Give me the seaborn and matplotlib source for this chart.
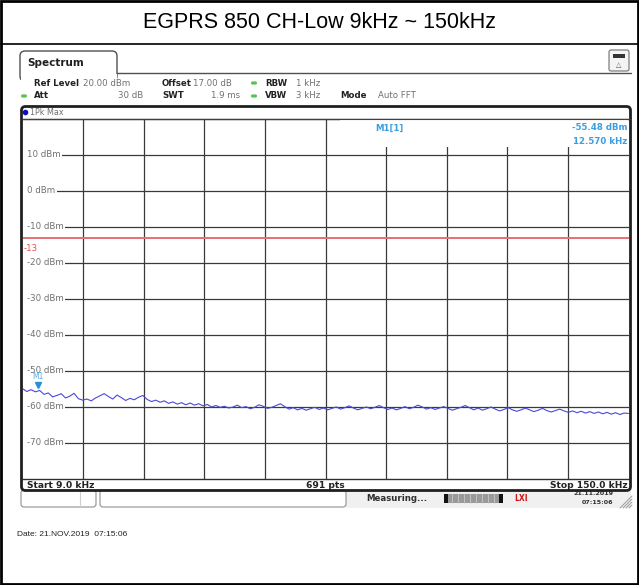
import numpy as np
import pandas as pd
import matplotlib
matplotlib.use("Agg")
import matplotlib.pyplot as plt
import seaborn as sns
from matplotlib.patches import Rectangle, FancyBboxPatch, Circle

# ---------------- data ----------------
title = "EGPRS 850 CH-Low 9kHz ~ 150kHz"
freq_khz = list(range(9, 151))
level_dbm = [
    -55.0, -55.8, -55.3, -55.9, -55.5, -56.6, -56.2, -57.3, -56.9, -56.4, -57.6, -57.1,
    -56.3, -57.8, -58.2, -57.9, -58.4, -57.6, -57.0, -56.4, -57.2, -57.9, -56.8, -57.5, -58.3, -57.7, -58.1,
    -57.4, -56.9, -58.0, -58.6, -58.2, -58.8, -58.4, -59.1, -58.7, -59.3, -58.9, -59.5, -59.0, -59.6, -59.2,
    -59.8, -59.4, -60.1, -59.7, -60.2, -59.9, -60.4, -60.1, -59.6, -60.3, -60.0, -60.6, -60.2, -59.5, -59.9,
    -60.5, -60.2, -59.7, -59.2, -60.0, -60.7, -60.3, -60.9, -60.5, -61.0, -60.6, -60.2, -60.8, -60.4, -60.9,
    -60.5, -60.1, -60.7, -60.3, -59.8, -60.4, -60.9, -60.5, -60.1, -60.6, -60.2, -59.7, -60.3, -60.8, -60.4,
    -60.9, -60.5, -60.0, -60.6, -60.2, -59.6, -60.1, -60.7, -60.3, -60.8, -60.4, -60.0, -60.5, -61.0, -60.6,
    -60.2, -59.7, -60.3, -60.9, -60.4, -61.0, -60.6, -60.1, -60.7, -61.2, -60.8, -60.3, -60.9, -61.3, -60.9,
    -60.4, -60.9, -61.4, -61.0, -60.5, -61.1, -61.5, -61.1, -60.7, -61.2, -61.6, -61.2, -61.7, -61.3, -61.8,
    -61.4, -61.9, -61.5, -62.0, -61.6, -62.1, -61.7, -62.2, -61.8, -61.9,
]
start_khz, stop_khz = 9.0, 150.0
ref_level, bottom_level = 20, -80
y_tick_values = [10, 0, -10, -20, -30, -40, -50, -60, -70]
y_tick_labels = ["10 dBm", "0 dBm", "-10 dBm", "-20 dBm", "-30 dBm", "-40 dBm", "-50 dBm", "-60 dBm", "-70 dBm"]
limit_line = -13
marker_freq, marker_level = 12.57, -55.48

df = pd.DataFrame({"freq": freq_khz, "level": level_dbm})

# ---------------- figure ----------------
W, H = 639, 585
sns.set_theme(style="white")
plt.rcParams["font.family"] = ["DejaVu Sans"]
fig = plt.figure(figsize=(W / 100, H / 100), dpi=100)
fig.patch.set_facecolor("white")

bg = fig.add_axes([0, 0, 1, 1], zorder=0)
bg.set_xlim(0, W); bg.set_ylim(H, 0); bg.axis("off")

arial = "Liberation Sans"
grayt = "#707070"

# outer border and title
bg.add_patch(Rectangle((1, 1), W - 2.5, H - 2.5, fill=False, lw=2, ec="black"))
bg.plot([1, W - 1], [44, 44], color="black", lw=1.2)
bg.text(W / 2, 23, title, ha="center", va="center", fontsize=15.5, family=arial, color="black")

# Spectrum tab
bg.add_patch(FancyBboxPatch((20, 51), 97, 30, boxstyle="round,pad=0,rounding_size=5",
                            fc="white", ec="#505050", lw=1))
bg.plot([117, 631], [73, 73], color="#505050", lw=1)
bg.add_patch(Rectangle((20.6, 73.5), 96, 8, fc="white", ec="none"))
bg.text(27, 63.5, "Spectrum", fontsize=7.5, fontweight="bold", va="center", color="#202020")
# icon box top right
bg.add_patch(FancyBboxPatch((609, 50), 20, 21, boxstyle="round,pad=0,rounding_size=2",
                            fc="#f4f4f4", ec="#707070", lw=0.8))
bg.add_patch(Rectangle((613, 54), 12, 4, fc="#333333", ec="none"))
bg.text(619, 65, "△", fontsize=5, ha="center", va="center", color="#555555")

# info rows
fs_b, fs_r = 6.2, 6.2
r1, r2 = 83, 96
green = "#56c356"
bg.text(34, r1, "Ref Level", fontsize=fs_b, fontweight="bold", va="center", color="#222222")
bg.text(83, r1, "20.00 dBm", fontsize=fs_r, va="center", color=grayt)
bg.text(162, r1, "Offset", fontsize=fs_b, fontweight="bold", va="center", color="#222222")
bg.text(193, r1, "17.00 dB", fontsize=fs_r, va="center", color=grayt)
bg.add_patch(FancyBboxPatch((251, r1 - 1.6), 6, 3.2, boxstyle="round,pad=0,rounding_size=1.5", fc=green, ec="none"))
bg.text(265, r1, "RBW", fontsize=fs_b, fontweight="bold", va="center", color="#222222")
bg.text(296, r1, "1 kHz", fontsize=fs_r, va="center", color=grayt)
bg.add_patch(FancyBboxPatch((21, r2 - 1.6), 6, 3.2, boxstyle="round,pad=0,rounding_size=1.5", fc=green, ec="none"))
bg.text(34, r2, "Att", fontsize=fs_b, fontweight="bold", va="center", color="#222222")
bg.text(143, r2, "30 dB", fontsize=fs_r, va="center", ha="right", color=grayt)
bg.text(162, r2, "SWT", fontsize=fs_b, fontweight="bold", va="center", color="#222222")
bg.text(240, r2, "1.9 ms", fontsize=fs_r, va="center", ha="right", color=grayt)
bg.add_patch(FancyBboxPatch((251, r2 - 1.6), 6, 3.2, boxstyle="round,pad=0,rounding_size=1.5", fc=green, ec="none"))
bg.text(265, r2, "VBW", fontsize=fs_b, fontweight="bold", va="center", color="#222222")
bg.text(296, r2, "3 kHz", fontsize=fs_r, va="center", color=grayt)
bg.text(340, r2, "Mode", fontsize=fs_b, fontweight="bold", va="center", color="#222222")
bg.text(378, r2, "Auto FFT", fontsize=fs_r, va="center", color=grayt)

# trace window header
bg.text(30, 112.5, "1Pk Max", fontsize=5.8, va="center", color=grayt)
bg.add_patch(Circle((25.5, 112.5), 2.8, fc="#1010c0", ec="none"))

# bottom row texts
bg.text(27, 485, "Start 9.0 kHz", fontsize=6.6, fontweight="bold", va="center", color="#222222")
bg.text(325, 485, "691 pts", fontsize=6.6, fontweight="bold", va="center", ha="center", color="#222222")
bg.text(628, 485, "Stop 150.0 kHz", fontsize=6.6, fontweight="bold", va="center", ha="right", color="#222222")

# status bar
bg.add_patch(Rectangle((346, 491), 285, 17, fc="#f0f0f0", ec="none"))
bg.add_patch(FancyBboxPatch((21, 490), 75, 17, boxstyle="round,pad=0,rounding_size=3",
                            fc="white", ec="#909090", lw=0.8))
bg.plot([80, 80], [491, 506], color="#d0d0d0", lw=0.8)
bg.add_patch(FancyBboxPatch((100, 490), 246, 17, boxstyle="round,pad=0,rounding_size=3",
                            fc="white", ec="#909090", lw=0.8))
bg.text(366, 498.5, "Measuring...", fontsize=6.2, fontweight="bold", va="center", color="#303030")
bg.add_patch(FancyBboxPatch((444, 494), 59, 9, boxstyle="round,pad=0,rounding_size=2",
                            fc="#9a9a9a", ec="none"))
bg.add_patch(Rectangle((444, 494), 4, 9, fc="#111111", ec="none"))
bg.add_patch(Rectangle((499, 494), 4, 9, fc="#111111", ec="none"))
for k in range(8):
    bg.plot([452 + k * 6, 452 + k * 6], [494, 503], color="#c8c8c8", lw=0.6)
bg.text(521, 498.5, "LXI", fontsize=5.5, fontweight="bold", va="center", ha="center", color="#d01818")
bg.text(613, 493.5, "21.11.2019", fontsize=4.6, fontweight="bold", va="center", ha="right", color="#303030")
bg.text(613, 502, "07:15:06", fontsize=4.6, fontweight="bold", va="center", ha="right", color="#303030")
for k in range(4):
    bg.plot([620 + k * 3, 632], [508, 496 + k * 3], color="#9a9a9a", lw=0.7)

# date line
bg.text(17, 534, "Date: 21.NOV.2019  07:15:06", fontsize=6, family=arial, va="center", color="#222222")

# ---------------- data axes ----------------
left_px, right_px, top_px, bot_px = 22.5, 628.5, 119, 478.5
ax = fig.add_axes([left_px / W, 1 - bot_px / H, (right_px - left_px) / W, (bot_px - top_px) / H], zorder=1)
ax.set_xlim(start_khz, stop_khz)
ax.set_ylim(bottom_level, ref_level)
ax.set_facecolor("white")

span = stop_khz - start_khz
ax.set_xticks([start_khz + span * k / 10 for k in range(1, 10)])
ax.set_yticks(y_tick_values)
ax.set_xticklabels([]); ax.set_yticklabels([])
ax.tick_params(length=0)
ax.set_axisbelow(True)
ax.grid(True, axis="x", color="#3a3a3a", lw=0.9)
ax.hlines(y_tick_values, start_khz + span * 0.007, stop_khz, color="#3a3a3a", lw=0.9, zorder=1.2)
for s in ["top", "bottom"]:
    ax.spines[s].set_color("#303030"); ax.spines[s].set_linewidth(1)
for s in ["left", "right"]:
    ax.spines[s].set_visible(False)

for v, lab in zip(y_tick_values, y_tick_labels):
    ax.text(start_khz + span * 0.008, v, lab, fontsize=6.2, color=grayt, va="center", ha="left",
            zorder=1.5, bbox=dict(fc="white", ec="none", pad=0.8))

# limit line
ax.axhline(limit_line, color="#e87070", lw=1.4, zorder=1.6)
ax.text(start_khz + span * 0.002, limit_line - 1.8, "-13", fontsize=6.2, color="#e05050",
        va="top", ha="left", zorder=1.7)

# trace
sns.lineplot(data=df, x="freq", y="level", ax=ax, color="#4a4ad8", lw=0.8, zorder=3)
ax.set_xlabel(""); ax.set_ylabel("")

# marker
ax.plot([marker_freq], [marker_level + 1.6], marker="v", color="#2a8fd8", ms=4.5, zorder=4)
ax.text(marker_freq, marker_level + 2.6, "M1", fontsize=5.5, color="#5aa8e0", ha="center", va="bottom", zorder=4)

# marker info box (white over grid) and frame
ov = fig.add_axes([0, 0, 1, 1], zorder=2)
ov.set_xlim(0, W); ov.set_ylim(H, 0); ov.axis("off")
ov.patch.set_alpha(0)
ov.add_patch(Rectangle((340, 120), 287.5, 27, fc="white", ec="none"))
ov.text(375, 128, "M1[1]", fontsize=6.2, fontweight="bold", color="#3a9ee0", va="center")
ov.text(627, 128, "-55.48 dBm", fontsize=6.2, fontweight="bold", color="#3a9ee0", va="center", ha="right")
ov.text(627, 141, "12.570 kHz", fontsize=6.2, fontweight="bold", color="#3a9ee0", va="center", ha="right")
ov.add_patch(FancyBboxPatch((21.5, 106.5), 609, 384, boxstyle="round,pad=0,rounding_size=4",
                            fill=False, ec="#202020", lw=2))
ov.plot([22, 630], [118.5, 118.5], color="#404040", lw=0.8)

fig.savefig("out.png", dpi=100, facecolor="white")
